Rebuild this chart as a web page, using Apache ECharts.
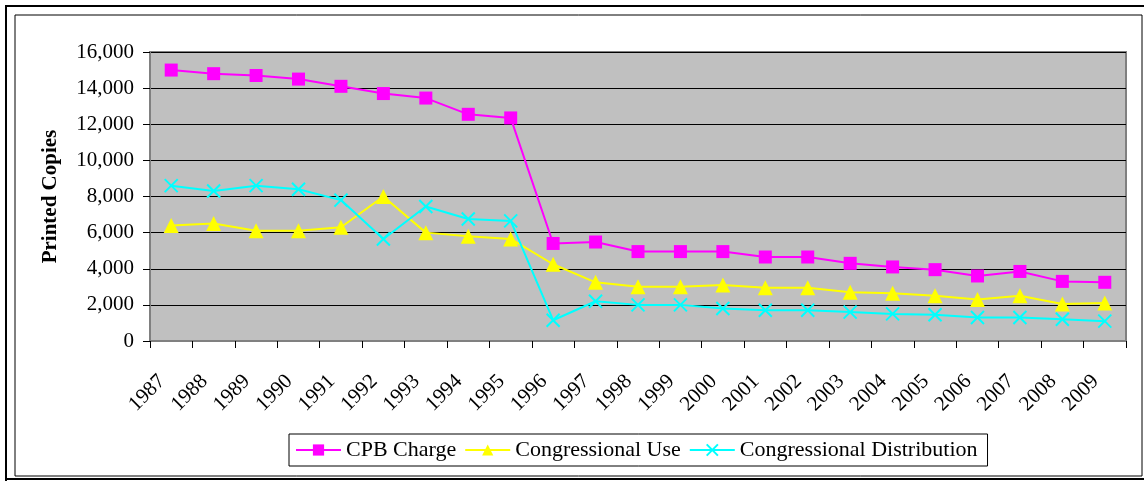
<!DOCTYPE html>
<html>
<head>
<meta charset="utf-8">
<script src="https://cdn.jsdelivr.net/npm/echarts@6/dist/echarts.min.js"></script>
<style>
  html, body { margin: 0; padding: 0; background: #fff; }
  #chart { width: 1144px; height: 481px; }
</style>
</head>
<body>
<div id="chart"></div>
<script>
// 数据
var years = ['1987', '1988', '1989', '1990', '1991', '1992', '1993', '1994', '1995', '1996', '1997', '1998',
  '1999', '2000', '2001', '2002', '2003', '2004', '2005', '2006', '2007', '2008', '2009']
var cpbCharge = [15000, 14800, 14700, 14500, 14100, 13700, 13450, 12550, 12350, 5400, 5480, 4950,
  4950, 4950, 4650, 4650, 4300, 4100, 3950, 3600, 3850, 3300, 3250]
var congressionalUse = [6400, 6500, 6100, 6100, 6300, 8000, 6000, 5800, 5650, 4250, 3250, 3000,
  3000, 3100, 2950, 2950, 2700, 2650, 2500, 2300, 2500, 2050, 2100]
var congressionalDist = [8600, 8300, 8600, 8400, 7800, 5650, 7450, 6750, 6650, 1150, 2200, 2000,
  2000, 1800, 1700, 1700, 1600, 1500, 1450, 1300, 1300, 1200, 1100]

var serif = '"Liberation Serif", "DejaVu Serif", serif'
var crossPath = 'path://M0,0L10,10M10,0L0,10'

var mychart = echarts.init(document.getElementById('chart'))
var option = {
  backgroundColor: '#fff',
  animation: false,
  textStyle: { fontFamily: serif },
  // 外框
  graphic: [
    { type: 'rect', shape: { x: 15, y: 15, width: 1127, height: 461 },
      style: { fill: 'none', stroke: '#000', lineWidth: 1 } },
    { type: 'line', shape: { x1: 5, y1: 6, x2: 1144, y2: 6 }, style: { stroke: '#000', lineWidth: 2 } },
    { type: 'line', shape: { x1: 6, y1: 5, x2: 6, y2: 481 }, style: { stroke: '#000', lineWidth: 2 } },
    { type: 'line', shape: { x1: 5, y1: 479, x2: 1144, y2: 479 }, style: { stroke: '#000', lineWidth: 2 } }
  ],
  grid: {
    left: 150,
    right: 18,
    top: 52,
    bottom: 140,
    show: true,
    backgroundColor: '#C0C0C0',
    borderColor: '#808080',
    borderWidth: 2
  },
  legend: {
    left: 289,
    top: 434,
    padding: [5, 10, 5, 6],
    itemGap: 8,
    itemWidth: 45,
    itemHeight: 14,
    borderColor: '#000',
    borderWidth: 1,
    backgroundColor: '#fff',
    textStyle: { fontFamily: serif, fontSize: 22, color: '#000' },
    data: ['CPB Charge', 'Congressional Use', 'Congressional Distribution']
  },
  xAxis: {
    type: 'category',
    data: years,
    boundaryGap: true,
    axisLine: { lineStyle: { color: '#808080', width: 2 } },
    axisTick: { show: true, length: 7, lineStyle: { color: '#000' } },
    axisLabel: {
      rotate: 45,
      interval: 0,
      margin: 28,
      padding: [0, 13, 0, 0],
      fontFamily: serif,
      fontSize: 21,
      color: '#000'
    }
  },
  yAxis: {
    type: 'value',
    min: 0,
    max: 16000,
    interval: 2000,
    name: 'Printed Copies',
    nameLocation: 'middle',
    nameGap: 89,
    nameTextStyle: { fontFamily: serif, fontSize: 21, fontWeight: 'bold', color: '#000' },
    axisLine: { show: true, lineStyle: { color: '#808080', width: 2 } },
    axisTick: { show: true, length: 7, lineStyle: { color: '#000' } },
    axisLabel: {
      fontFamily: serif,
      fontSize: 21,
      color: '#000',
      margin: 16,
      formatter: function (v) { return v.toLocaleString('en-US') }
    },
    splitLine: { lineStyle: { color: '#000', width: 1 } }
  },
  series: [
    {
      name: 'CPB Charge',
      type: 'line',
      data: cpbCharge,
      symbol: 'rect',
      symbolSize: 13,
      itemStyle: { color: '#FF00FF' },
      lineStyle: { color: '#FF00FF', width: 2 }
    },
    {
      name: 'Congressional Use',
      type: 'line',
      data: congressionalUse,
      symbol: 'triangle',
      symbolSize: 15,
      itemStyle: { color: '#FFFF00' },
      lineStyle: { color: '#FFFF00', width: 2 }
    },
    {
      name: 'Congressional Distribution',
      type: 'line',
      data: congressionalDist,
      symbol: crossPath,
      symbolSize: 13,
      itemStyle: { color: '#00FFFF', borderColor: '#00FFFF', borderWidth: 2 },
      lineStyle: { color: '#00FFFF', width: 2 }
    }
  ]
}
mychart.setOption(option)
</script>
</body>
</html>
